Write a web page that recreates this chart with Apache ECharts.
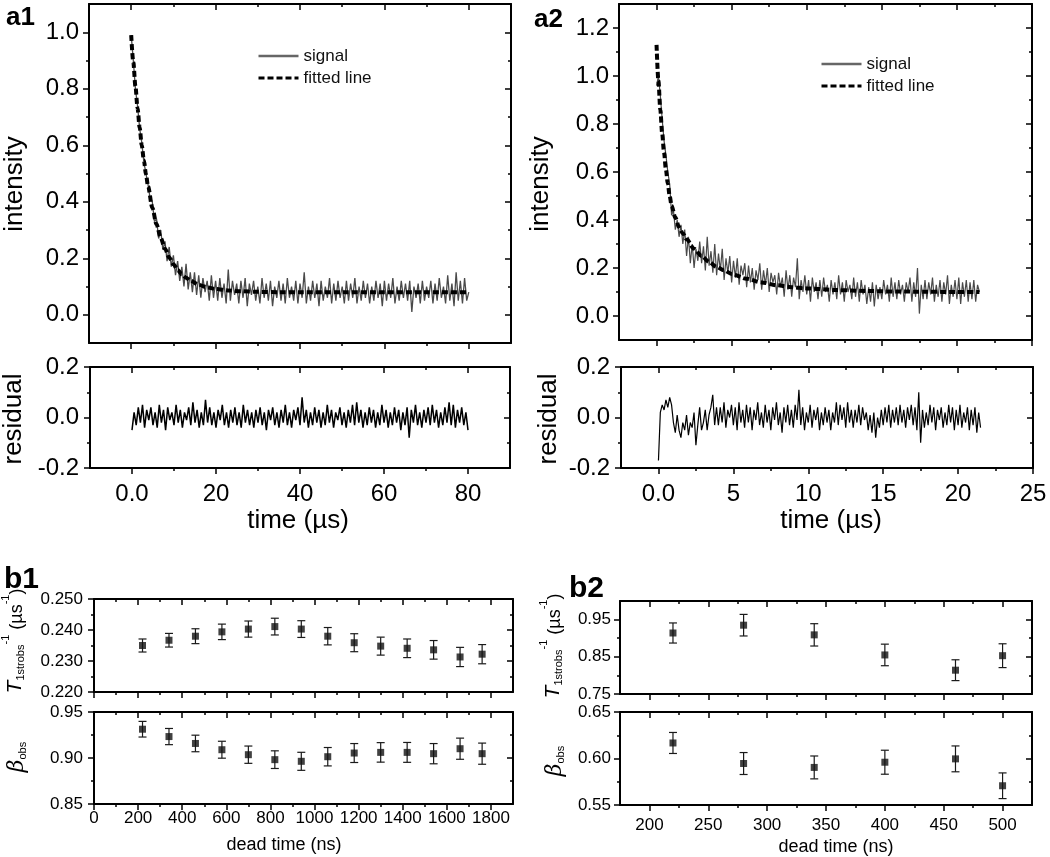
<!DOCTYPE html>
<html>
<head>
<meta charset="utf-8">
<title>T1 strobs decay</title>
<script src="https://cdn.jsdelivr.net/npm/echarts@6/dist/echarts.min.js"></script>
<style>
  html, body { margin: 0; padding: 0; background: #fff; }
  #chart { width: 1050px; height: 857px; }
</style>
</head>
<body>
<div id="chart"></div>
<script>
// ---------- data ----------
// a1: signal / residual sampled every 0.5 us
const a1Dt = 0.5;
const a1Signal = [
  0.99, 0.90, 0.80, 0.74, 0.66, 0.61, 0.54, 0.50, 0.46, 0.41,
  0.40, 0.33, 0.34, 0.27, 0.30, 0.23, 0.26, 0.19, 0.24, 0.17,
  0.21, 0.14, 0.19, 0.12, 0.17, 0.10, 0.18, 0.09, 0.15, 0.08,
  0.15, 0.07, 0.14, 0.06, 0.13, 0.08, 0.12, 0.05, 0.14, 0.06,
  0.12, 0.05, 0.13, 0.06, 0.11, 0.04, 0.16, 0.05, 0.12, 0.07,
  0.11, 0.04, 0.12, 0.06, 0.13, 0.03, 0.11, 0.07, 0.12, 0.05,
  0.10, 0.04, 0.13, 0.06, 0.11, 0.05, 0.12, 0.03, 0.10, 0.06,
  0.12, 0.05, 0.11, 0.04, 0.13, 0.06, 0.10, 0.05, 0.12, 0.04,
  0.11, 0.06, 0.15, 0.04, 0.10, 0.05, 0.12, 0.06, 0.11, 0.03,
  0.12, 0.05, 0.10, 0.06, 0.13, 0.04, 0.11, 0.05, 0.12, 0.06,
  0.10, 0.04, 0.12, 0.05, 0.11, 0.06, 0.13, 0.04, 0.10, 0.05,
  0.12, 0.06, 0.11, 0.04, 0.10, 0.05, 0.12, 0.06, 0.11, 0.03,
  0.12, 0.05, 0.11, 0.06, 0.13, 0.04, 0.10, 0.05, 0.12, 0.06,
  0.11, 0.05, 0.12, 0.01, 0.10, 0.06, 0.11, 0.04, 0.12, 0.05,
  0.10, 0.06, 0.12, 0.04, 0.11, 0.05, 0.13, 0.06, 0.10, 0.04,
  0.14, 0.05, 0.11, 0.03, 0.15, 0.05, 0.12, 0.04, 0.13, 0.05,
  0.08
];
const a1Residual = [
  -0.05, 0.02, -0.03, 0.04, -0.02, 0.05, -0.04, 0.03, -0.01, 0.04,
  -0.03, 0.02, -0.04, 0.05, -0.02, 0.03, -0.05, 0.04, -0.01, 0.02,
  -0.03, 0.05, -0.02, 0.03, -0.04, 0.02, -0.01, 0.04, -0.03, 0.06,
  -0.02, 0.03, -0.04, 0.02, -0.03, 0.07, -0.02, 0.04, -0.03, 0.02,
  -0.04, 0.03, -0.01, 0.05, -0.03, 0.02, -0.04, 0.03, -0.02, 0.04,
  -0.03, 0.02, -0.04, 0.05, -0.02, 0.03, -0.03, 0.02, -0.04, 0.03,
  -0.02, 0.04, -0.03, 0.02, -0.05, 0.03, -0.01, 0.04, -0.03, 0.02,
  -0.04, 0.03, -0.02, 0.05, -0.03, 0.02, -0.04, 0.03, -0.01, 0.04,
  -0.03, 0.08, -0.02, 0.03, -0.04, 0.02, -0.03, 0.04, -0.02, 0.03,
  -0.04, 0.02, -0.03, 0.05, -0.02, 0.03, -0.04, 0.02, -0.01, 0.04,
  -0.03, 0.02, -0.04, 0.03, -0.02, 0.05, -0.03, 0.06, -0.02, 0.03,
  -0.04, 0.02, -0.03, 0.04, -0.02, 0.03, -0.04, 0.02, -0.03, 0.05,
  -0.02, 0.03, -0.04, 0.02, -0.03, 0.04, -0.02, 0.03, -0.05, 0.02,
  -0.03, 0.04, -0.08, 0.03, -0.02, 0.05, -0.03, 0.02, -0.04, 0.03,
  -0.02, 0.04, -0.03, 0.05, -0.02, 0.03, -0.04, 0.02, -0.03, 0.04,
  -0.02, 0.06, -0.03, 0.05, -0.04, 0.03, -0.02, 0.04, -0.03, 0.02,
  -0.05
];
const a1FitT = [0, 0.5, 1, 1.5, 2, 2.5, 3, 3.5, 4, 5, 6, 7, 8, 9, 10, 11, 12, 13, 14, 16, 18, 20, 23, 26, 30, 35, 40, 50, 60, 70, 80];
const a1FitV = [0.99, 0.894, 0.809, 0.732, 0.663, 0.60, 0.547, 0.497, 0.454, 0.379, 0.320, 0.272, 0.234, 0.203, 0.179, 0.159, 0.143, 0.131, 0.121, 0.106, 0.097, 0.091, 0.086, 0.083, 0.081, 0.08, 0.08, 0.08, 0.08, 0.08, 0.08];

// a2: signal / residual sampled every 0.125 us
const a2Dt = 0.125;
const a2Signal = [
  0.96, 1.00, 0.92, 0.82, 0.73, 0.67, 0.60, 0.55,
  0.42, 0.44, 0.36, 0.40, 0.33, 0.38, 0.30, 0.36,
  0.25, 0.33, 0.22, 0.30, 0.20, 0.28, 0.23, 0.31,
  0.22, 0.29, 0.19, 0.33, 0.21, 0.27, 0.18, 0.30,
  0.17, 0.26, 0.19, 0.28, 0.15, 0.24, 0.18, 0.25,
  0.14, 0.23, 0.16, 0.24, 0.13, 0.21, 0.17, 0.22,
  0.12, 0.21, 0.14, 0.20, 0.11, 0.19, 0.15, 0.22,
  0.11, 0.19, 0.13, 0.20, 0.10, 0.18, 0.14, 0.17,
  0.09, 0.18, 0.12, 0.16, 0.08, 0.19, 0.11, 0.17,
  0.08, 0.16, 0.12, 0.24, 0.07, 0.15, 0.10, 0.17,
  0.09, 0.15, 0.06, 0.16, 0.10, 0.14, 0.07, 0.15,
  0.08, 0.16, 0.10, 0.13, 0.06, 0.15, 0.09, 0.14,
  0.07, 0.17, 0.09, 0.14, 0.06, 0.15, 0.10, 0.13,
  0.07, 0.16, 0.08, 0.14, 0.06, 0.15, 0.09, 0.13,
  0.05, 0.12, 0.06, 0.14, 0.04, 0.13, 0.07, 0.12,
  0.07, 0.15, 0.09, 0.13, 0.06, 0.16, 0.08, 0.14,
  0.07, 0.15, 0.09, 0.13, 0.06, 0.14, 0.10, 0.16,
  0.06, 0.14, 0.08, 0.20, 0.01, 0.13, 0.07, 0.15,
  0.07, 0.14, 0.09, 0.16, 0.06, 0.13, 0.08, 0.15,
  0.06, 0.14, 0.09, 0.17, 0.05, 0.13, 0.08, 0.15,
  0.07, 0.16, 0.05, 0.14, 0.08, 0.15, 0.06, 0.14,
  0.07, 0.15, 0.06, 0.13, 0.10
];
const a2Residual = [
  -0.17, 0.02, 0.05, 0.03, 0.07, 0.04, 0.08, 0.05,
  -0.02, -0.06, 0.01, -0.05, -0.08, -0.02, -0.05, 0.01,
  -0.07, -0.02, -0.04, 0.02, -0.11, -0.03, 0.04, -0.05,
  -0.02, 0.03, -0.05, 0.01, 0.04, 0.09, -0.03, 0.04,
  -0.03, 0.04, -0.02, 0.06, -0.04, 0.03, 0.00, 0.05,
  -0.03, 0.04, -0.05, 0.06, -0.02, 0.03, -0.04, 0.05,
  -0.02, 0.04, -0.05, 0.03, -0.01, 0.06, -0.03, 0.02,
  -0.04, 0.05, -0.02, 0.03, -0.05, 0.04, -0.01, 0.06,
  -0.03, 0.02, -0.06, 0.04, -0.02, 0.05, -0.03, 0.03,
  -0.04, 0.05, -0.01, 0.11, -0.03, 0.04, -0.05, 0.02,
  -0.02, 0.05, -0.04, 0.03, -0.01, 0.04, -0.05, 0.02,
  -0.03, 0.04, -0.02, 0.03, -0.05, 0.02, -0.02, 0.06,
  -0.03, 0.05, -0.01, 0.04, -0.04, 0.06, -0.02, 0.03,
  -0.04, 0.03, -0.02, 0.05, -0.03, 0.04, -0.01, 0.02,
  -0.05, 0.01, -0.06, 0.02, -0.08, 0.00, -0.04, 0.03,
  -0.03, 0.04, -0.02, 0.05, -0.04, 0.03, -0.02, 0.04,
  -0.03, 0.05, -0.02, 0.03, -0.04, 0.04, -0.01, 0.05,
  -0.03, 0.04, -0.05, 0.10, -0.10, 0.03, -0.04, 0.02,
  -0.03, 0.05, -0.02, 0.04, -0.05, 0.03, -0.01, 0.04,
  -0.04, 0.02, -0.03, 0.05, -0.02, 0.04, -0.05, 0.03,
  -0.03, 0.05, -0.04, 0.02, -0.02, 0.04, -0.05, 0.03,
  -0.03, 0.04, -0.06, 0.02, -0.04
];
const a2FitT = [0, 0.125, 0.25, 0.375, 0.5, 0.625, 0.75, 0.875, 1, 1.25, 1.5, 1.75, 2, 2.5, 3, 3.5, 4, 4.5, 5, 6, 7, 8, 9, 10, 12, 14, 16, 18, 20, 21.5];
const a2FitV = [1.13, 0.98, 0.86, 0.76, 0.68, 0.61, 0.55, 0.50, 0.46, 0.41, 0.37, 0.345, 0.32, 0.28, 0.25, 0.225, 0.205, 0.19, 0.175, 0.155, 0.14, 0.128, 0.12, 0.115, 0.108, 0.104, 0.102, 0.101, 0.10, 0.10];

// b1 / b2: dead time scans
const b1Dead = [220, 340, 460, 580, 700, 820, 940, 1060, 1180, 1300, 1420, 1540, 1660, 1760];
const b1Rate = [0.2350, 0.2367, 0.2380, 0.2394, 0.2403, 0.2411, 0.2403, 0.2380, 0.2359, 0.2348, 0.2341, 0.2336, 0.2313, 0.2322];
const b1RateErr = [0.0021, 0.0022, 0.0024, 0.0025, 0.0026, 0.0027, 0.0027, 0.0028, 0.0029, 0.0029, 0.0030, 0.0030, 0.0031, 0.0031];
const b1Beta = [0.9313, 0.9233, 0.9158, 0.9090, 0.9036, 0.8982, 0.8964, 0.9014, 0.9054, 0.9061, 0.9061, 0.9047, 0.9101, 0.9047];
const b1BetaErr = [0.0085, 0.0088, 0.0090, 0.0092, 0.0094, 0.0096, 0.0098, 0.0100, 0.0103, 0.0106, 0.0108, 0.0110, 0.0115, 0.0115];

const b2Dead = [220, 280, 340, 400, 460, 500];
const b2Rate = [0.914, 0.935, 0.909, 0.855, 0.814, 0.853];
const b2RateErr = [0.027, 0.029, 0.030, 0.029, 0.028, 0.032];
const b2Beta = [0.6167, 0.5946, 0.5904, 0.5960, 0.5996, 0.5707];
const b2BetaErr = [0.0113, 0.0118, 0.0123, 0.0129, 0.0139, 0.0138];

// tick values
const a1XMajor = [0, 20, 40, 60, 80], a1XMinor = [10, 30, 50, 70];
const a2XMajor = [0, 5, 10, 15, 20, 25], a2XMinor = [2.5, 7.5, 12.5, 17.5, 22.5];
const a1YMajor = [0, 0.2, 0.4, 0.6, 0.8, 1.0], a1YMinor = [0.1, 0.3, 0.5, 0.7, 0.9];
const a2YMajor = [0, 0.2, 0.4, 0.6, 0.8, 1.0, 1.2], a2YMinor = [0.1, 0.3, 0.5, 0.7, 0.9, 1.1];
const resYMajor = [-0.2, 0, 0.2], resYMinor = [-0.1, 0.1];
const b1XMajor = [0, 200, 400, 600, 800, 1000, 1200, 1400, 1600, 1800];
const b1XMinor = [100, 300, 500, 700, 900, 1100, 1300, 1500, 1700];
const b2XMajor = [200, 250, 300, 350, 400, 450, 500];
const b2XMinor = [225, 275, 325, 375, 425, 475];
const b1RateMajor = [0.22, 0.23, 0.24, 0.25], b1RateMinor = [0.225, 0.235, 0.245];
const b1BetaMajor = [0.85, 0.90, 0.95], b1BetaMinor = [0.875, 0.925];
const b2RateMajor = [0.75, 0.85, 0.95], b2RateMinor = [0.80, 0.90];
const b2BetaMajor = [0.55, 0.60, 0.65], b2BetaMinor = [0.575, 0.625];

// ---------- layout ----------
const FONT = 'Liberation Sans, Arial, Helvetica, sans-serif';
const grids = [
  { left: 89, top: 4, width: 422, height: 339 },   // 0 a1 signal
  { left: 90, top: 367, width: 420, height: 101 }, // 1 a1 residual
  { left: 619, top: 4, width: 413, height: 336 },  // 2 a2 signal
  { left: 621, top: 367, width: 412, height: 101 },// 3 a2 residual
  { left: 94, top: 599, width: 419, height: 93 },  // 4 b1 rate
  { left: 94, top: 712, width: 419, height: 92 },  // 5 b1 beta
  { left: 620, top: 601, width: 412, height: 93 }, // 6 b2 rate
  { left: 620, top: 712, width: 412, height: 93 }  // 7 b2 beta
].map(g => Object.assign({ outerBoundsMode: 'none', containLabel: false }, g));

const xAxes = [], yAxes = [];

// builds a boxed axis pair (bottom/left with outward ticks, top/right mirrored inward)
function addAxes(list, gi, dim, o) {
  const sideA = dim === 'x' ? 'bottom' : 'left';
  const sideB = dim === 'x' ? 'top' : 'right';
  const base = { gridIndex: gi, type: 'value', min: o.min, max: o.max, splitLine: { show: false } };
  const line = { show: true, onZero: false, lineStyle: { color: '#000', width: 2 } };
  const tickStyle = { color: '#000', width: 1.5 };
  const idx = list.length;
  list.push(Object.assign({}, base, {
    position: sideA,
    axisLine: line,
    axisTick: { show: true, inside: false, length: 6, customValues: o.major, lineStyle: tickStyle },
    axisLabel: {
      show: !!o.fmt, customValues: o.major, formatter: o.fmt,
      fontSize: o.fontSize || 24, margin: o.margin || 10, color: '#000', fontFamily: FONT
    }
  }));
  list.push(Object.assign({}, base, {
    position: sideA,
    axisLine: { show: false, onZero: false },
    axisTick: { show: true, inside: false, length: 3, customValues: o.minor, lineStyle: tickStyle },
    axisLabel: { show: false }
  }));
  list.push(Object.assign({}, base, {
    position: sideB,
    axisLine: line,
    axisTick: { show: true, inside: true, length: 6, customValues: o.major, lineStyle: tickStyle },
    axisLabel: { show: false }
  }));
  list.push(Object.assign({}, base, {
    position: sideB,
    axisLine: { show: false, onZero: false },
    axisTick: { show: true, inside: true, length: 3, customValues: o.minor, lineStyle: tickStyle },
    axisLabel: { show: false }
  }));
  return idx;
}

const f1 = v => v.toFixed(1);
const fA1x = v => (v === 0 ? '0.0' : String(v));

const ax = {
  a1sx: addAxes(xAxes, 0, 'x', { min: -10, max: 90, major: a1XMajor, minor: a1XMinor }),
  a1sy: addAxes(yAxes, 0, 'y', { min: -0.1, max: 1.1, major: a1YMajor, minor: a1YMinor, fmt: f1, margin: 10 }),
  a1rx: addAxes(xAxes, 1, 'x', { min: -10, max: 90, major: a1XMajor, minor: a1XMinor, fmt: fA1x, margin: 14 }),
  a1ry: addAxes(yAxes, 1, 'y', { min: -0.2, max: 0.2, major: resYMajor, minor: resYMinor, fmt: f1, margin: 11 }),
  a2sx: addAxes(xAxes, 2, 'x', { min: -2.5, max: 25, major: a2XMajor, minor: a2XMinor }),
  a2sy: addAxes(yAxes, 2, 'y', { min: -0.1, max: 1.3, major: a2YMajor, minor: a2YMinor, fmt: f1, margin: 10 }),
  a2rx: addAxes(xAxes, 3, 'x', { min: -2.5, max: 25, major: a2XMajor, minor: a2XMinor, fmt: fA1x, margin: 14 }),
  a2ry: addAxes(yAxes, 3, 'y', { min: -0.2, max: 0.2, major: resYMajor, minor: resYMinor, fmt: f1, margin: 11 }),
  b1tx: addAxes(xAxes, 4, 'x', { min: 0, max: 1900, major: b1XMajor, minor: b1XMinor }),
  b1ty: addAxes(yAxes, 4, 'y', { min: 0.22, max: 0.25, major: b1RateMajor, minor: b1RateMinor, fmt: v => v.toFixed(3), fontSize: 17, margin: 11 }),
  b1bx: addAxes(xAxes, 5, 'x', { min: 0, max: 1900, major: b1XMajor, minor: b1XMinor, fmt: v => String(v), fontSize: 17, margin: 6 }),
  b1by: addAxes(yAxes, 5, 'y', { min: 0.85, max: 0.95, major: b1BetaMajor, minor: b1BetaMinor, fmt: v => v.toFixed(2), fontSize: 17, margin: 11 }),
  b2tx: addAxes(xAxes, 6, 'x', { min: 175, max: 525, major: b2XMajor, minor: b2XMinor }),
  b2ty: addAxes(yAxes, 6, 'y', { min: 0.75, max: 1.0, major: b2RateMajor, minor: b2RateMinor, fmt: v => v.toFixed(2), fontSize: 17, margin: 9 }),
  b2bx: addAxes(xAxes, 7, 'x', { min: 175, max: 525, major: b2XMajor, minor: b2XMinor, fmt: v => String(v), fontSize: 17, margin: 12 }),
  b2by: addAxes(yAxes, 7, 'y', { min: 0.55, max: 0.65, major: b2BetaMajor, minor: b2BetaMinor, fmt: v => v.toFixed(2), fontSize: 17, margin: 9 })
};

// ---------- series ----------
const pairs = (xs, ys) => xs.map((x, i) => [x, ys[i]]);
const sampled = (arr, dt) => arr.map((v, i) => [+(i * dt).toFixed(4), v]);

function trace(name, xi, yi, data, color, width, z) {
  return {
    name: name, type: 'line', xAxisIndex: xi, yAxisIndex: yi, data: data,
    symbol: 'none', lineStyle: { color: color, width: width }, itemStyle: { color: color },
    z: z, silent: true, animation: false
  };
}
function fit(xi, yi, xs, ys) {
  return {
    name: 'fitted line', type: 'line', xAxisIndex: xi, yAxisIndex: yi, data: pairs(xs, ys),
    symbol: 'none', smooth: 0.3, smoothMonotone: 'x',
    lineStyle: { color: '#000', width: 4, type: [6, 3] }, itemStyle: { color: '#000' },
    z: 4, silent: true, animation: false
  };
}

function errBar(params, api) {
  const x = api.value(0);
  const lo = api.coord([x, api.value(1)]);
  const hi = api.coord([x, api.value(2)]);
  const w = 4;
  const st = { stroke: '#1a1a1a', lineWidth: 1.2 };
  return {
    type: 'group',
    children: [
      { type: 'line', shape: { x1: lo[0], y1: lo[1], x2: hi[0], y2: hi[1] }, style: st },
      { type: 'line', shape: { x1: lo[0] - w, y1: lo[1], x2: lo[0] + w, y2: lo[1] }, style: st },
      { type: 'line', shape: { x1: hi[0] - w, y1: hi[1], x2: hi[0] + w, y2: hi[1] }, style: st }
    ]
  };
}
function points(xi, yi, xs, ys, es) {
  return [
    {
      type: 'custom', xAxisIndex: xi, yAxisIndex: yi, renderItem: errBar,
      encode: { x: 0, y: [1, 2] },
      data: xs.map((x, i) => [x, ys[i] - es[i], ys[i] + es[i]]),
      z: 2, silent: true, animation: false
    },
    {
      type: 'scatter', xAxisIndex: xi, yAxisIndex: yi, data: pairs(xs, ys),
      symbol: 'rect', symbolSize: 7, itemStyle: { color: '#111' },
      z: 3, silent: true, animation: false
    }
  ];
}

const series = [
  trace('signal', ax.a1sx, ax.a1sy, sampled(a1Signal, a1Dt), '#4a4a4a', 1.3, 2),
  fit(ax.a1sx, ax.a1sy, a1FitT, a1FitV),
  trace('a1 residual', ax.a1rx, ax.a1ry, sampled(a1Residual, a1Dt), '#000', 1.5, 2),
  trace('signal', ax.a2sx, ax.a2sy, sampled(a2Signal, a2Dt), '#4a4a4a', 1.2, 2),
  fit(ax.a2sx, ax.a2sy, a2FitT, a2FitV),
  trace('a2 residual', ax.a2rx, ax.a2ry, sampled(a2Residual, a2Dt), '#000', 1.2, 2)
].concat(
  points(ax.b1tx, ax.b1ty, b1Dead, b1Rate, b1RateErr),
  points(ax.b1bx, ax.b1by, b1Dead, b1Beta, b1BetaErr),
  points(ax.b2tx, ax.b2ty, b2Dead, b2Rate, b2RateErr),
  points(ax.b2bx, ax.b2by, b2Dead, b2Beta, b2BetaErr)
);

// ---------- text ----------
function label(x, y, text, size, opt) {
  opt = opt || {};
  return {
    type: 'text', x: x, y: y, rotation: opt.rot ? Math.PI / 2 : 0, silent: true,
    style: {
      text: text, fill: '#000', fontFamily: FONT, fontSize: size,
      fontWeight: opt.bold ? 'bold' : 'normal', rich: opt.rich,
      align: opt.align || 'center', textAlign: opt.align || 'center',
      verticalAlign: 'middle', textVerticalAlign: 'middle'
    }
  };
}
const rateRich = {
  t: { fontSize: 21, fontStyle: 'italic', fontFamily: FONT, lineHeight: 26, verticalAlign: 'bottom' },
  s: { fontSize: 11, fontFamily: FONT, lineHeight: 26, verticalAlign: 'bottom' },
  p: { fontSize: 11, fontFamily: FONT, lineHeight: 26, verticalAlign: 'top' },
  n: { fontSize: 18, fontFamily: FONT, lineHeight: 26, verticalAlign: 'bottom' }
};
const betaRich = {
  b: { fontSize: 22, fontStyle: 'italic', fontFamily: 'DejaVu Serif, serif', lineHeight: 26, verticalAlign: 'bottom' },
  s: { fontSize: 11, fontFamily: FONT, lineHeight: 26, verticalAlign: 'bottom' }
};
const rateText = '{t|T}{s|1strobs}{p|-1}{n| (µs}{p|-1}{n|)}';
const betaText = '{b|β}{s|obs}';

const graphics = [
  label(6, 18, 'a1', 26, { bold: true, align: 'left' }),
  label(534, 20, 'a2', 26, { bold: true, align: 'left' }),
  label(4, 580, 'b1', 30, { bold: true, align: 'left' }),
  label(569, 589, 'b2', 30, { bold: true, align: 'left' }),
  label(15, 184, 'intensity', 26, { rot: true }),
  label(541, 184, 'intensity', 26, { rot: true }),
  label(14, 419, 'residual', 26, { rot: true }),
  label(549, 419, 'residual', 26, { rot: true }),
  label(298, 521, 'time (µs)', 26),
  label(831, 521, 'time (µs)', 26),
  label(284, 845, 'dead time (ns)', 18),
  label(836, 847, 'dead time (ns)', 18),
  label(13, 641, rateText, 18, { rot: true, rich: rateRich }),
  label(551, 646, rateText, 18, { rot: true, rich: rateRich }),
  label(15, 757, betaText, 20, { rot: true, rich: betaRich }),
  label(553, 761, betaText, 20, { rot: true, rich: betaRich })
];

const legendBase = {
  orient: 'vertical', itemWidth: 40, itemHeight: 12, itemGap: 2,
  itemStyle: { opacity: 0 },
  textStyle: { fontSize: 17, lineHeight: 20, color: '#111', fontFamily: FONT },
  data: [
    { name: 'signal', lineStyle: { width: 2.5, color: '#666' } },
    { name: 'fitted line', lineStyle: { width: 3 } }
  ]
};

const chart = echarts.init(document.getElementById('chart'), null, { renderer: 'canvas' });
chart.setOption({
  backgroundColor: '#fff',
  animation: false,
  grid: grids,
  xAxis: xAxes,
  yAxis: yAxes,
  legend: [
    Object.assign({}, legendBase, { left: 252, top: 41 }),
    Object.assign({}, legendBase, { left: 815, top: 49 })
  ],
  graphic: graphics,
  series: series
});
</script>
</body>
</html>
